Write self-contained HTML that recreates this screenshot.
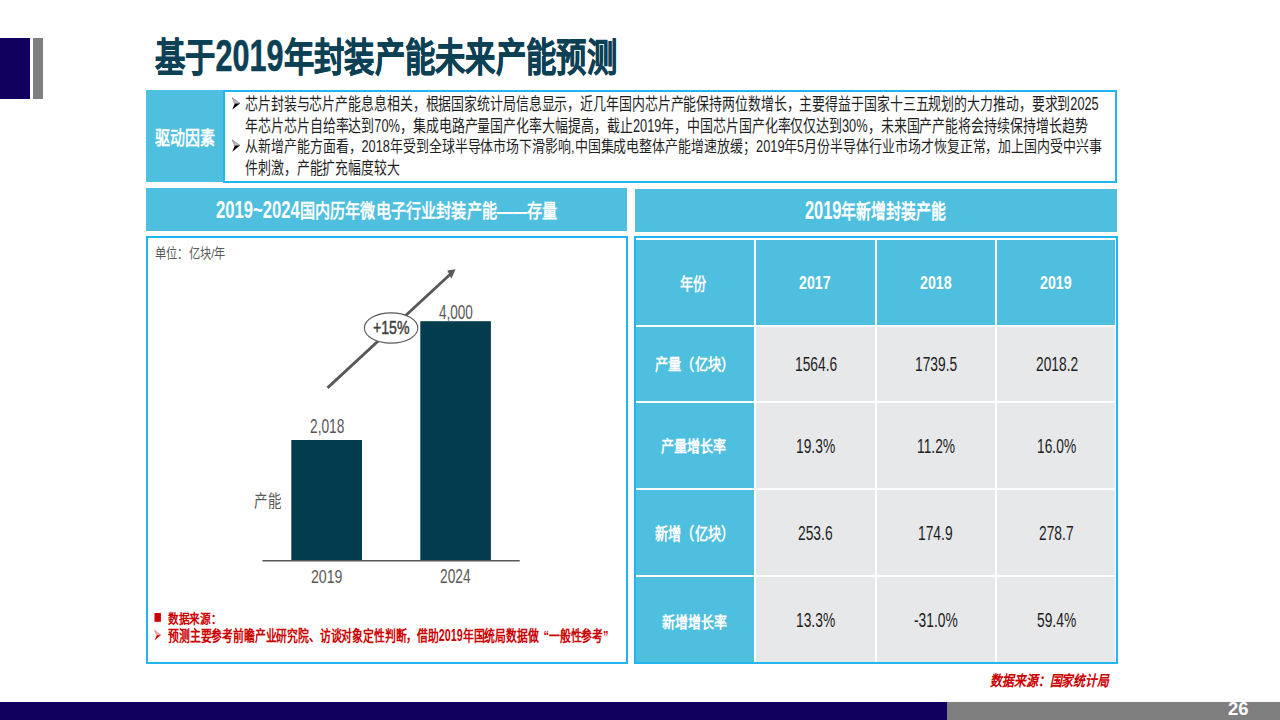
<!DOCTYPE html>
<html lang="zh-CN">
<head>
<meta charset="utf-8">
<style>
html,body{margin:0;padding:0;}
body{width:1280px;height:720px;position:relative;overflow:hidden;background:#fff;font-family:"Liberation Sans",sans-serif;}
.r{position:absolute;}
.t{position:absolute;white-space:nowrap;line-height:1;transform-origin:0 0;font-family:"Liberation Sans",sans-serif;}
.bl{background:#4FBFE0;}
.gy{background:#E7E8EA;}
.dg{display:inline-block;}
.dgi{display:inline-block;transform-origin:0 0;}
.q{margin-left:.45em;}
</style>
</head>
<body>
<!-- top-left decoration -->
<div class="r" style="left:0;top:38px;width:30px;height:61px;background:#12005F"></div>
<div class="r" style="left:33px;top:38px;width:10px;height:61px;background:#7F7F7F"></div>
<!-- bottom bar -->
<div class="r" style="left:0;top:702px;width:947px;height:18px;background:#12005F"></div>
<div class="r" style="left:947px;top:702px;width:333px;height:18px;background:#7F7F7F"></div>
<!-- drivers -->
<div class="r bl" style="left:146px;top:90px;width:77px;height:92px"></div>
<div class="r" style="left:223px;top:90px;width:890px;height:89px;border:2px solid #22B6F0"></div>
<!-- headers -->
<div class="r bl" style="left:146px;top:188px;width:481px;height:43px"></div>
<div class="r bl" style="left:635px;top:189px;width:482px;height:43px"></div>
<!-- chart box -->
<div class="r" style="left:146px;top:236px;width:478px;height:424px;border:2px solid #22B6F0"></div>
<!-- table box -->
<div class="r" style="left:634px;top:236px;width:480px;height:424px;border:2px solid #22B6F0;background:#fff"></div>
<!-- table cells -->
<div class="r bl" style="left:636px;top:240px;width:118px;height:85px"></div>
<div class="r bl" style="left:756px;top:240px;width:119px;height:85px"></div>
<div class="r bl" style="left:877px;top:240px;width:118px;height:85px"></div>
<div class="r bl" style="left:997px;top:240px;width:118px;height:85px"></div>
<div class="r bl" style="left:636px;top:327px;width:118px;height:74px"></div>
<div class="r gy" style="left:756px;top:327px;width:119px;height:74px"></div>
<div class="r gy" style="left:877px;top:327px;width:118px;height:74px"></div>
<div class="r gy" style="left:997px;top:327px;width:118px;height:74px"></div>
<div class="r bl" style="left:636px;top:403px;width:118px;height:85px"></div>
<div class="r gy" style="left:756px;top:403px;width:119px;height:85px"></div>
<div class="r gy" style="left:877px;top:403px;width:118px;height:85px"></div>
<div class="r gy" style="left:997px;top:403px;width:118px;height:85px"></div>
<div class="r bl" style="left:636px;top:490px;width:118px;height:85px"></div>
<div class="r gy" style="left:756px;top:490px;width:119px;height:85px"></div>
<div class="r gy" style="left:877px;top:490px;width:118px;height:85px"></div>
<div class="r gy" style="left:997px;top:490px;width:118px;height:85px"></div>
<div class="r bl" style="left:636px;top:577px;width:118px;height:85px"></div>
<div class="r gy" style="left:756px;top:577px;width:119px;height:85px"></div>
<div class="r gy" style="left:877px;top:577px;width:118px;height:85px"></div>
<div class="r gy" style="left:997px;top:577px;width:118px;height:85px"></div>
<!-- chart shapes -->
<svg class="r" style="left:0;top:0" width="1280" height="720" viewBox="0 0 1280 720">
  <rect x="291.3" y="440" width="70.7" height="120.5" fill="#033C4F"/>
  <rect x="420.3" y="321.2" width="70.6" height="239.3" fill="#033C4F"/>
  <line x1="262.4" y1="560.75" x2="519.7" y2="560.75" stroke="#595959" stroke-width="1.5"/>
  <line x1="327.5" y1="387.9" x2="450" y2="274.5" stroke="#595959" stroke-width="2.8"/>
  <polygon points="455.5,269.2 447.3,270.5 451.4,278.7" fill="#595959"/>
  <ellipse cx="391.1" cy="328" rx="26.7" ry="15.1" fill="#fff" stroke="#595959" stroke-width="1.1"/>
  <!-- bullets -->
  <polygon points="232.1,97.6 240,103.4 234.7,103.7" fill="#bbb" stroke="#777" stroke-width="0.6"/>
  <polygon points="234.7,103.7 240,103.4 232.3,109.6" fill="#000"/>
  <polygon points="232.1,139.7 240,145.5 234.7,145.8" fill="#bbb" stroke="#777" stroke-width="0.6"/>
  <polygon points="234.7,145.8 240,145.5 232.3,151.7" fill="#000"/>
  <rect x="154.5" y="613" width="6.4" height="8.8" fill="#CC0000"/>
  <polygon points="154.4,630.1 160.9,635 156.7,635.5" fill="#f2b0b0" stroke="#d66" stroke-width="0.5"/>
  <polygon points="156.7,635.5 160.9,635 154.4,640.6" fill="#CC0000"/>
</svg>
<div class="t" style="left:155.24px;top:34.08px;font-size:40px;font-weight:bold;font-style:normal;color:#0C4054;transform:scale(0.7578,0.9750);-webkit-text-stroke:0.6px #0C4054">基于<span class="dg" style="width:89.6906px;font-size:1.12em"><span class="dgi" style="transform:scaleX(0.9)">2019</span></span>年封装产能未来产能预测</div>
<div class="t" style="left:155.20px;top:128.09px;font-size:20px;font-weight:bold;font-style:normal;color:#FFFFFF;transform:scale(0.7468,0.9850);">驱动因素</div>
<div class="t" style="left:245.28px;top:95.40px;font-size:18px;font-weight:normal;font-style:normal;color:#1E1E1E;transform:scale(0.7164,0.9389);">芯片封装与芯片产能息息相关，根据国家统计局信息显示，近几年国内芯片产能保持两位数增长，主要得益于国家十三五规划的大力推动，要求到<span class="dg" style="width:39.614px;font-size:1.1em"><span class="dgi" style="transform:scaleX(0.9)">2025</span></span></div>
<div class="t" style="left:245.28px;top:117.00px;font-size:18px;font-weight:normal;font-style:normal;color:#1E1E1E;transform:scale(0.7184,0.9222);">年芯片芯片自给率达到<span class="dg" style="width:35.6344px;font-size:1.1em"><span class="dgi" style="transform:scaleX(0.9)">70%</span></span>，集成电路产量国产化率大幅提高，截止<span class="dg" style="width:39.6141px;font-size:1.1em"><span class="dgi" style="transform:scaleX(0.9)">2019</span></span>年，中国芯片国产化率仅仅达到<span class="dg" style="width:35.6344px;font-size:1.1em"><span class="dgi" style="transform:scaleX(0.9)">30%</span></span>，未来国产产能将会持续保持增长趋势</div>
<div class="t" style="left:245.28px;top:137.80px;font-size:18px;font-weight:normal;font-style:normal;color:#1E1E1E;transform:scale(0.7188,0.8526);">从新增产能方面看，<span class="dg" style="width:39.6141px;font-size:1.1em"><span class="dgi" style="transform:scaleX(0.9)">2018</span></span>年受到全球半导体市场下滑影响,中国集成电整体产能增速放缓；<span class="dg" style="width:39.6141px;font-size:1.1em"><span class="dgi" style="transform:scaleX(0.9)">2019</span></span>年<span class="dg" style="width:9.91406px;font-size:1.1em"><span class="dgi" style="transform:scaleX(0.9)">5</span></span>月份半导体行业市场才恢复正常，加上国内受中兴事</div>
<div class="t" style="left:245.28px;top:159.92px;font-size:18px;font-weight:normal;font-style:normal;color:#1E1E1E;transform:scale(0.7168,0.9222);">件刺激，产能扩充幅度较大</div>
<div class="t" style="left:215.94px;top:197.85px;font-size:20px;font-weight:bold;font-style:normal;color:#FFFFFF;transform:scale(0.7581,0.9750);"><span class="dg" style="width:110.489px;font-size:1.22em"><span class="dgi" style="transform:scaleX(0.9)">2019~2024</span></span>国内历年微电子行业封装产能——存量</div>
<div class="t" style="left:805.25px;top:197.95px;font-size:20px;font-weight:bold;font-style:normal;color:#FFFFFF;transform:scale(0.7473,1.0250);"><span class="dg" style="width:48.8391px;font-size:1.22em"><span class="dgi" style="transform:scaleX(0.9)">2019</span></span>年新增封装产能</div>
<div class="t" style="left:155.05px;top:246.00px;font-size:15px;font-weight:normal;font-style:normal;color:#595959;transform:scale(0.7489,0.9133);">单位：亿块/年</div>
<div class="t" style="left:373.12px;top:318.41px;font-size:18px;font-weight:normal;font-style:normal;color:#404040;transform:scale(0.7844,1.0462);-webkit-text-stroke:0.45px #404040">+15%</div>
<div class="t" style="left:438.90px;top:301.86px;font-size:19px;font-weight:normal;font-style:normal;color:#595959;transform:scale(0.7128,1.0467);">4,000</div>
<div class="t" style="left:310.08px;top:416.16px;font-size:19px;font-weight:normal;font-style:normal;color:#595959;transform:scale(0.7239,1.0467);">2,018</div>
<div class="t" style="left:254.35px;top:493.23px;font-size:18px;font-weight:normal;font-style:normal;color:#595959;transform:scale(0.7500,0.9278);">产能</div>
<div class="t" style="left:311.25px;top:567.37px;font-size:19px;font-weight:normal;font-style:normal;color:#595959;transform:scale(0.7450,0.9769);">2019</div>
<div class="t" style="left:439.88px;top:566.48px;font-size:19px;font-weight:normal;font-style:normal;color:#595959;transform:scale(0.7244,1.0385);">2024</div>
<div class="t" style="left:168.30px;top:611.60px;font-size:14px;font-weight:bold;font-style:normal;color:#CC0000;transform:scale(0.7590,0.9143);">数据来源：</div>
<div class="t" style="left:168.30px;top:626.94px;font-size:14px;font-weight:bold;font-style:normal;color:#CC0000;transform:scale(0.7739,1.0571);">预测主要参考前瞻产业研究院、访谈对象定性判断，借助<span class="dg" style="width:30.825px;font-size:1.1em"><span class="dgi" style="transform:scaleX(0.9)">2019</span></span>年国统局数据做<span class="q">“</span>一般性参考”</div>
<div class="t" style="left:990.40px;top:674.12px;font-size:16px;font-weight:bold;font-style:italic;color:#CC0000;transform:scale(0.7441,0.9250);">数据来源：国家统计局</div>
<div class="t" style="left:1228.28px;top:700.32px;font-size:18px;font-weight:bold;font-style:normal;color:#FFFFFF;transform:scale(1.0222,0.9923);">26</div>
<div class="t" style="left:680.17px;top:275.92px;font-size:18px;font-weight:bold;font-style:normal;color:#FFFFFF;transform:scale(0.7343,0.9167);">年份</div>
<div class="t" style="left:799.05px;top:273.00px;font-size:19px;font-weight:bold;font-style:normal;color:#FFFFFF;transform:scale(0.7463,1.0000);">2017</div>
<div class="t" style="left:919.70px;top:273.00px;font-size:19px;font-weight:bold;font-style:normal;color:#FFFFFF;transform:scale(0.7463,1.0000);">2018</div>
<div class="t" style="left:1040.45px;top:273.00px;font-size:19px;font-weight:bold;font-style:normal;color:#FFFFFF;transform:scale(0.7463,1.0000);">2019</div>
<div class="t" style="left:654.66px;top:357.49px;font-size:18px;font-weight:bold;font-style:normal;color:#FFFFFF;transform:scale(0.7358,0.8889);">产量（亿块）</div>
<div class="t" style="left:661.48px;top:439.19px;font-size:18px;font-weight:bold;font-style:normal;color:#FFFFFF;transform:scale(0.7236,0.8944);">产量增长率</div>
<div class="t" style="left:654.67px;top:526.26px;font-size:18px;font-weight:bold;font-style:normal;color:#FFFFFF;transform:scale(0.7316,0.9556);">新增（亿块）</div>
<div class="t" style="left:661.58px;top:613.80px;font-size:18px;font-weight:bold;font-style:normal;color:#FFFFFF;transform:scale(0.7236,0.9000);">新增增长率</div>
<div class="t" style="left:794.57px;top:354.08px;font-size:19px;font-weight:normal;font-style:normal;color:#1E1E1E;transform:scale(0.7268,1.0385);">1564.6</div>
<div class="t" style="left:914.72px;top:354.13px;font-size:19px;font-weight:normal;font-style:normal;color:#1E1E1E;transform:scale(0.7268,1.0385);">1739.5</div>
<div class="t" style="left:1035.52px;top:354.13px;font-size:19px;font-weight:normal;font-style:normal;color:#1E1E1E;transform:scale(0.7268,1.0385);">2018.2</div>
<div class="t" style="left:795.98px;top:435.63px;font-size:19px;font-weight:normal;font-style:normal;color:#1E1E1E;transform:scale(0.7268,1.0385);">19.3%</div>
<div class="t" style="left:916.54px;top:435.63px;font-size:19px;font-weight:normal;font-style:normal;color:#1E1E1E;transform:scale(0.7268,1.0385);">11.2%</div>
<div class="t" style="left:1036.98px;top:435.63px;font-size:19px;font-weight:normal;font-style:normal;color:#1E1E1E;transform:scale(0.7268,1.0385);">16.0%</div>
<div class="t" style="left:798.16px;top:523.33px;font-size:19px;font-weight:normal;font-style:normal;color:#1E1E1E;transform:scale(0.7268,1.0385);">253.6</div>
<div class="t" style="left:918.36px;top:523.33px;font-size:19px;font-weight:normal;font-style:normal;color:#1E1E1E;transform:scale(0.7268,1.0385);">174.9</div>
<div class="t" style="left:1039.16px;top:523.33px;font-size:19px;font-weight:normal;font-style:normal;color:#1E1E1E;transform:scale(0.7268,1.0385);">278.7</div>
<div class="t" style="left:795.98px;top:610.43px;font-size:19px;font-weight:normal;font-style:normal;color:#1E1E1E;transform:scale(0.7268,1.0385);">13.3%</div>
<div class="t" style="left:913.63px;top:610.43px;font-size:19px;font-weight:normal;font-style:normal;color:#1E1E1E;transform:scale(0.7268,1.0385);">-31.0%</div>
<div class="t" style="left:1036.98px;top:610.43px;font-size:19px;font-weight:normal;font-style:normal;color:#1E1E1E;transform:scale(0.7268,1.0385);">59.4%</div>
</body>
</html>
